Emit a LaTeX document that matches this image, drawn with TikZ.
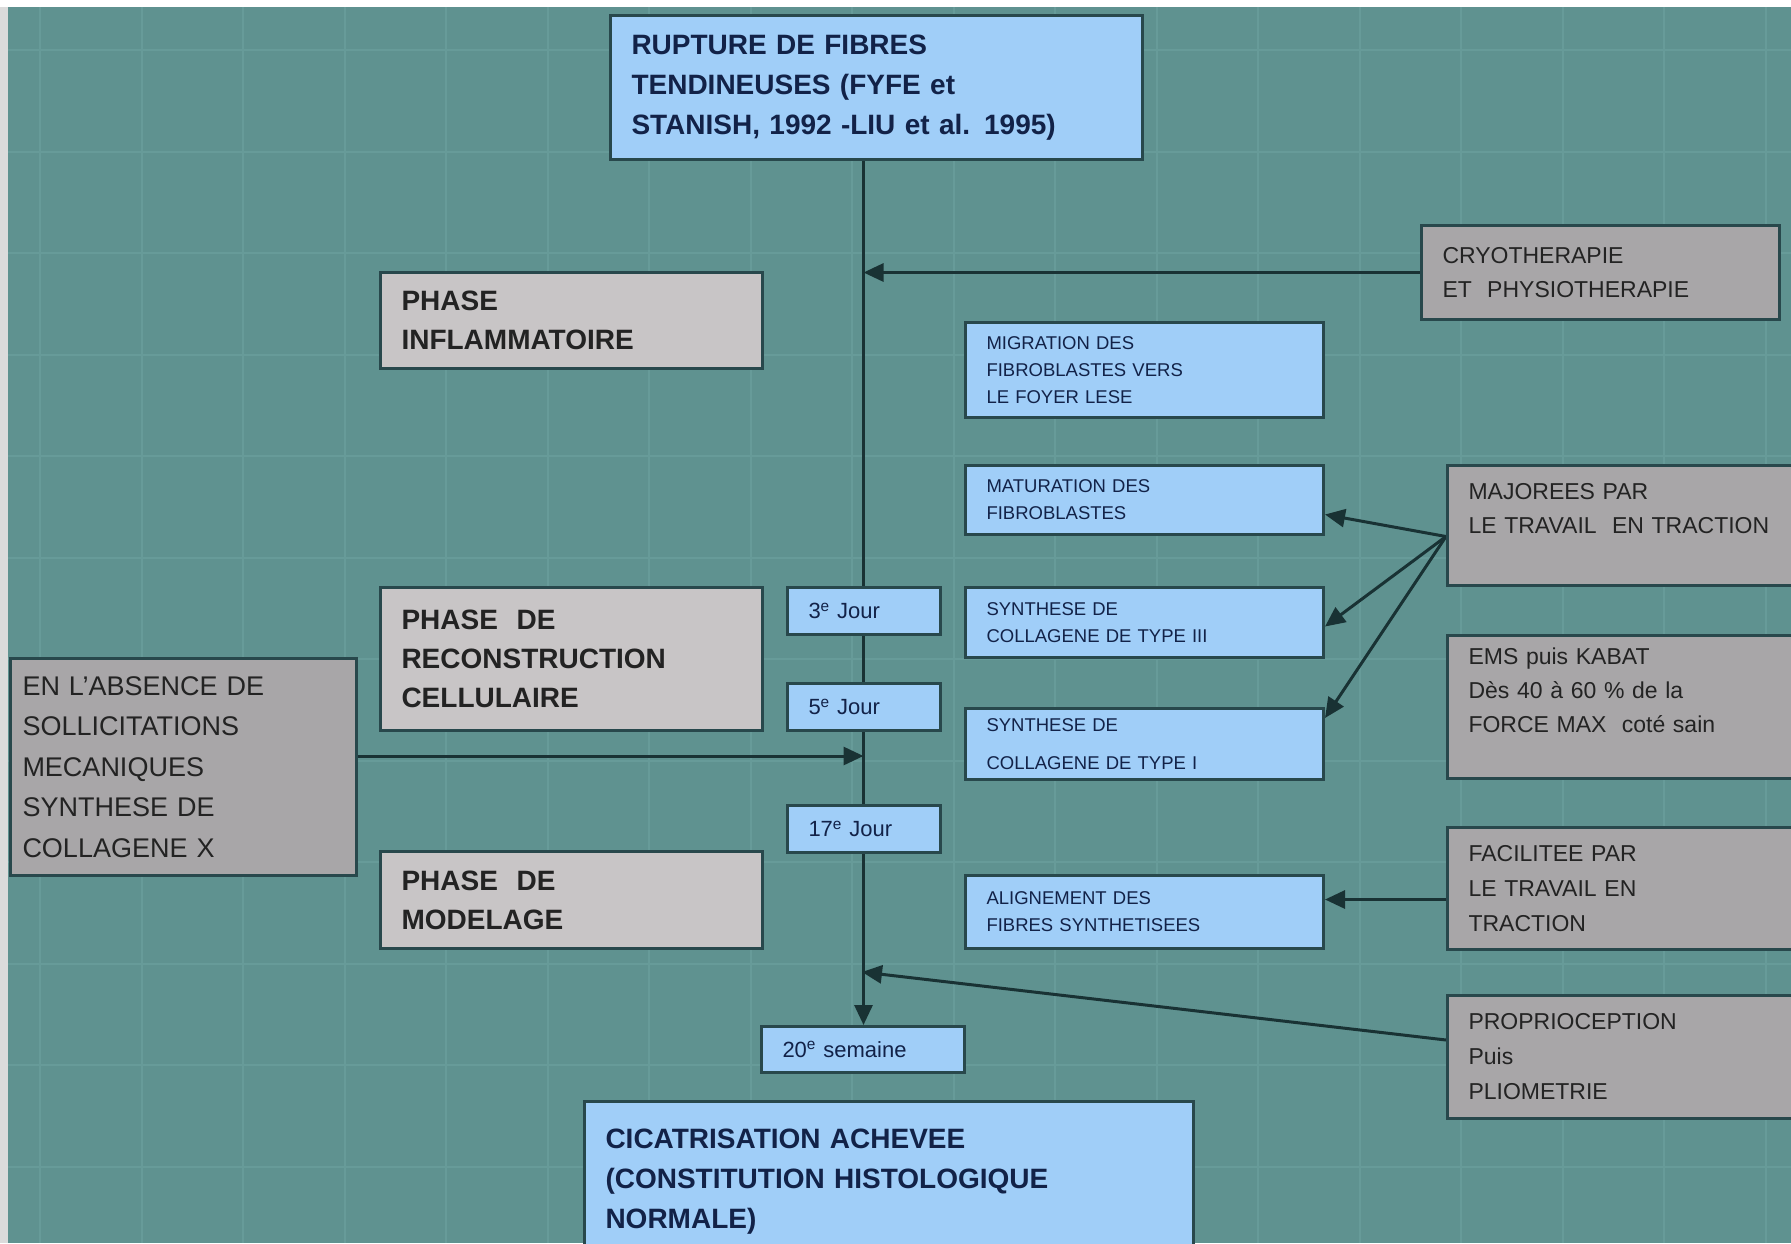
\documentclass[tikz,border=0pt]{standalone}
\usepackage{fontspec}
\setmainfont{Liberation Sans}
\usetikzlibrary{arrows.meta}
\pgfdeclarelayer{backdrop}
\pgfdeclarelayer{background}
\pgfsetlayers{backdrop,background,main}
\definecolor{teal}{RGB}{95,146,144}
\definecolor{gridcol}{RGB}{103,155,153}
\definecolor{paleblue}{RGB}{160,206,248}
\definecolor{phasegrey}{RGB}{200,197,198}
\definecolor{sidegrey}{RGB}{168,166,168}
\definecolor{edgecol}{RGB}{40,72,76}
\definecolor{linecol}{RGB}{25,50,52}
\definecolor{navy}{RGB}{18,34,72}
\definecolor{darktext}{RGB}{35,35,35}

\begin{document}
\begin{tikzpicture}[x=1pt,y=-1pt,
  box/.style={draw=edgecol,line width=3pt,anchor=north west,align=left,inner xsep=21pt,inner ysep=0pt},
  dims/.style n args={3}{minimum width=#1pt,minimum height=#2pt,text width=#3pt},
  bigbox/.style={box,fill=paleblue,text=navy,font=\bfseries\fontsize{28}{40}\selectfont},
  smallbox/.style={box,fill=paleblue,text=navy,font=\fontsize{18.5}{27}\selectfont},
  daybox/.style={box,fill=paleblue,text=navy,font=\fontsize{22}{26}\selectfont},
  phasebox/.style={box,fill=phasegrey,text=darktext,font=\bfseries\fontsize{28}{39}\selectfont},
  sidebox/.style={box,fill=sidegrey,text=darktext,font=\fontsize{23}{34}\selectfont},
  arr/.style={draw=linecol,line width=3pt,-{Triangle[length=20pt,width=18pt]}}]
  \useasboundingbox (0,0) rectangle (1791,1243);
  \clip (0,0) rectangle (1791,1243);

  % centre column
  \node[bigbox,dims={532}{144}{490}] (top) at (609,14)
    {RUPTURE DE FIBRES\\TENDINEUSES (FYFE et\\STANISH, 1992 -LIU et al. 1995)};
  \node[daybox,dims={153}{47}{111}] (jour3) at (786,586) {3\textsuperscript{e} Jour};
  \node[daybox,dims={153}{47}{111}] (jour5) at (786,682) {5\textsuperscript{e} Jour};
  \node[daybox,dims={153}{47}{111}] (jour17) at (786,804) {17\textsuperscript{e} Jour};
  \node[daybox,dims={203}{46}{161}] (week) at (760,1025) {20\textsuperscript{e} semaine};
  \node[bigbox,dims={609}{160}{567}] (cica) at (583,1100)
    {CICATRISATION ACHEVEE\\(CONSTITUTION HISTOLOGIQUE\\NORMALE)};

  % phases
  \node[phasebox,dims={382}{96}{340}] (infl) at (379,271) {PHASE\\INFLAMMATOIRE};
  \node[phasebox,dims={382}{143}{340}] (reco) at (379,586) {PHASE~~DE\\RECONSTRUCTION\\CELLULAIRE};
  \node[phasebox,dims={382}{97}{340}] (mode) at (379,850) {PHASE~~DE\\MODELAGE};
  \node[sidebox,inner xsep=12pt,dims={346}{217}{322},font=\fontsize{27}{40.5}\selectfont] (abs) at (9,657)
    {EN L'ABSENCE DE\\SOLLICITATIONS\\MECANIQUES\\SYNTHESE DE\\COLLAGENE X};

  % cellular events
  \node[smallbox,dims={358}{95}{316}] (migr) at (964,321) {MIGRATION DES\\FIBROBLASTES VERS\\LE FOYER LESE};
  \node[smallbox,dims={358}{69}{316}] (matu) at (964,464) {MATURATION DES\\FIBROBLASTES};
  \node[smallbox,dims={358}{70}{316}] (syn3) at (964,586) {SYNTHESE DE\\COLLAGENE DE TYPE III};
  \node[smallbox,dims={358}{71}{316}] (syn1) at (964,707) {SYNTHESE DE\\[11pt]COLLAGENE DE TYPE I};
  \node[smallbox,dims={358}{73}{316}] (ali) at (964,874) {ALIGNEMENT DES\\FIBRES SYNTHETISEES};

  % treatments
  \node[sidebox,dims={358}{94}{316}] (cryo) at (1420,224) {CRYOTHERAPIE\\ET~~PHYSIOTHERAPIE};
  \node[sidebox,dims={360}{120}{318}] (majo) at (1446,464) {MAJOREES PAR\\LE TRAVAIL~~EN TRACTION\\\mbox{}};
  \node[sidebox,dims={360}{143}{318}] (ems) at (1446,634)
    {EMS puis KABAT\\Dès 40 à 60 \% de la\\FORCE MAX~~coté sain\\\mbox{}};
  \node[sidebox,dims={360}{122}{318},font=\fontsize{23}{35}\selectfont] (faci) at (1446,826)
    {FACILITEE PAR\\LE TRAVAIL EN\\TRACTION};
  \node[sidebox,dims={360}{123}{318},font=\fontsize{23}{35}\selectfont] (prop) at (1446,994)
    {PROPRIOCEPTION\\Puis\\PLIOMETRIE};

  \begin{pgfonlayer}{background}
    \coordinate (spine) at ([xshift=-13pt]top.south);
    \coordinate (proptip) at (862,972);
    \draw[arr] (spine) -- (spine |- week.north);
    \draw[arr] (cryo.west) -- (spine |- cryo.west);
    \draw[arr] ([yshift=11pt]abs.east) coordinate (a1) -- (spine |- a1);
    \draw[arr] ([yshift=17pt]prop.west) -- (proptip);
    \draw[arr] ([yshift=-11pt]majo.west) -- ([yshift=-14.5pt]matu.east);
    \draw[arr] ([yshift=-11pt]majo.west) -- ([yshift=-4pt]syn3.east);
    \draw[arr] ([yshift=-11pt]majo.west) -- ([yshift=26pt]syn1.east);
    \draw[arr] ([yshift=-11pt]faci.west) coordinate (f1) -- (ali.east |- f1);
  \end{pgfonlayer}

  \begin{pgfonlayer}{backdrop}
    \fill[white] (0,0) rectangle (1791,7);
    \fill[black!14] (0,7) rectangle (8,1243);
    \fill[teal] (8,7) rectangle (1791,1243);
    \foreach \gx in {40,141.5,...,1791}
      \draw[gridcol,line width=2pt] (\gx,7) -- (\gx,1243);
    \foreach \gy in {50,151.5,...,1243}
      \draw[gridcol,line width=2pt] (8,\gy) -- (1791,\gy);
  \end{pgfonlayer}
\end{tikzpicture}
\end{document}
